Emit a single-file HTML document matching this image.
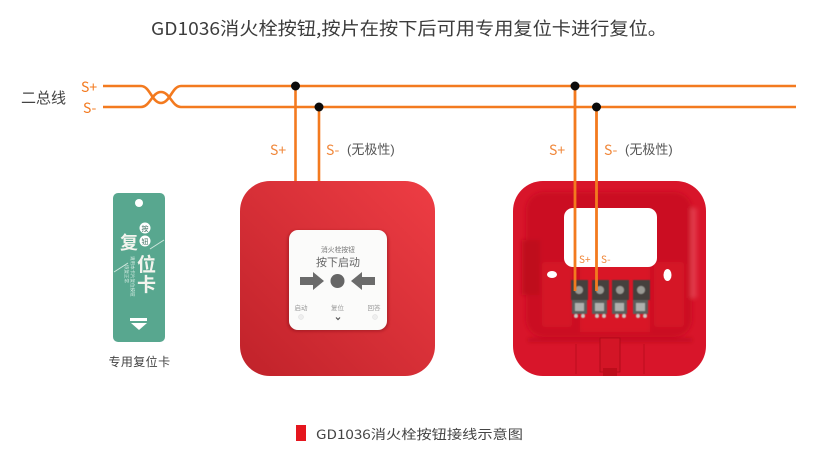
<!DOCTYPE html>
<html><head><meta charset="utf-8"><style>
html,body{margin:0;padding:0;background:#fff}
svg{display:block}
text{font-family:"Noto Sans CJK SC","Liberation Sans",sans-serif}
.l{font-family:"Liberation Sans","Noto Sans CJK SC",sans-serif}
</style></head><body>
<svg width="820" height="464" viewBox="0 0 820 464" xmlns="http://www.w3.org/2000/svg">
<defs>
<linearGradient id="r" x1="1" y1="0" x2="0" y2="1"><stop offset="0" stop-color="#ee3d44"/><stop offset="1" stop-color="#c0222a"/></linearGradient>
<filter id="s" x="-20%" y="-20%" width="140%" height="140%"><feGaussianBlur stdDeviation="1.6"/></filter>
<filter id="t" x="-20%" y="-20%" width="140%" height="140%"><feGaussianBlur stdDeviation=".6"/></filter>
<filter id="u" x="-20%" y="-20%" width="140%" height="140%"><feGaussianBlur stdDeviation="2"/></filter>
</defs>
<rect width="820" height="464" fill="#fff"/>
<text x="151" y="35" font-size="18" fill="#3c3c3c" textLength="516" lengthAdjust="spacingAndGlyphs">GD1036消火栓按钮,按片在按下后可用专用复位卡进行复位。</text>

<!-- bus -->
<g fill="none" stroke="#f37a1f" stroke-width="2.6">
<path d="M103 107H141C150 107 152 92 161 92C170 92 172 107 181 107H796"/>
<path d="M103 86H141C150 86 152 103 161 103C170 103 172 86 181 86H796"/>
<path d="M295.500 86V181M319 107V181"/>
</g>
<circle cx="295.500" cy="86" r="4.500" fill="#0b0b0b"/>
<circle cx="319" cy="107" r="4.500" fill="#0b0b0b"/>
<text x="21" y="103" font-size="15" fill="#444">二总线</text>
<text x="81" y="92" font-size="14" fill="#f37a1f">S+</text>
<text x="83" y="113" font-size="14" fill="#f37a1f">S-</text>

<text x="270" y="155" font-size="14" fill="#f0873a">S+</text>
<text x="326" y="155" font-size="14" fill="#f0873a">S-</text>
<text class="l" x="347" y="154" font-size="13" fill="#555">(无极性)</text>
<text x="549" y="155" font-size="14" fill="#f0873a">S+</text>
<text x="604" y="155" font-size="14" fill="#f0873a">S-</text>
<text class="l" x="625" y="154" font-size="13" fill="#555">(无极性)</text>

<!-- card -->
<rect x="113" y="193" width="52" height="149" rx="5" fill="#58a78f"/>
<circle cx="139" cy="203" r="4" fill="#fff"/>
<path d="M114 272L128 263M150 249L164 240" stroke="#cfe6dd" stroke-width="1" fill="none"/>
<circle cx="145" cy="228" r="5.500" fill="#fff"/><circle cx="145" cy="241" r="5.500" fill="#fff"/>
<text x="145" y="231" font-size="7" fill="#3d6f60" text-anchor="middle">按</text>
<text x="145" y="244" font-size="7" fill="#3d6f60" text-anchor="middle">钮</text>
<text x="120" y="249" font-size="18" font-weight="bold" fill="#f4f4ee">复</text>
<text x="137" y="271" font-size="19" font-weight="bold" fill="#f4f4ee">位</text>
<text x="137" y="291" font-size="19" font-weight="bold" fill="#f4f4ee">卡</text>
<g fill="#d6ebe3" font-size="4.500"><text transform="translate(131,256) rotate(90)">请用本卡片复位按钮</text><text transform="translate(125,265) rotate(90)">恢复正常</text></g>
<rect x="130" y="318" width="17" height="3" fill="#fff"/>
<path d="M131 323H147L139 330Z" fill="#fff"/>
<text x="139.500" y="366" font-size="12" letter-spacing=".4" fill="#444" text-anchor="middle">专用复位卡</text>

<!-- button -->
<rect x="240" y="181" width="195" height="195" rx="30" fill="url(#r)"/>
<rect x="288" y="231" width="100" height="100" rx="9" fill="#7b0f14" opacity=".55" filter="url(#s)"/>
<rect x="289" y="230" width="98" height="100" rx="9" fill="#fbfbfa"/>
<text x="338" y="252" font-size="6.800" fill="#777" text-anchor="middle">消火栓按钮</text>
<text x="338" y="266" font-size="11" fill="#666" text-anchor="middle">按下启动</text>
<circle cx="337.500" cy="281" r="7" fill="#666"/>
<path d="M300 277H313V272L324 281L313 290V285H300Z" fill="#6b6b6b"/>
<path d="M375 277H362V272L351 281L362 290V285H375Z" fill="#6b6b6b"/>
<g font-size="6.500" fill="#999" text-anchor="middle"><text x="301" y="310">启动</text><text x="337.500" y="310">复位</text><text x="374" y="310">回答</text></g>
<circle cx="301" cy="317" r="2.500" fill="#eeeeee" stroke="#ddd" stroke-width=".5"/>
<circle cx="375" cy="317" r="2.500" fill="#eeeeee" stroke="#ddd" stroke-width=".5"/>
<path d="M336 317.500L338 319.500L340 317.500" fill="none" stroke="#555" stroke-width="1.200"/>

<!-- base -->
<rect x="513" y="181" width="193" height="195" rx="30" fill="#d8152a"/>
<g filter="url(#u)">
<rect x="526" y="192" width="166" height="145" rx="18" fill="#cb0f20"/>
<rect x="522" y="240" width="18" height="55" fill="#bf0d1c"/>
<rect x="690" y="208" width="7" height="90" fill="#ee5f6c" opacity=".45"/>
<rect x="542" y="262" width="30" height="65" rx="3" fill="#d51426"/>
<rect x="654" y="262" width="30" height="65" rx="3" fill="#d51426"/>
<rect x="580" y="262" width="70" height="70" fill="#d91628"/>
<rect x="528" y="338" width="164" height="4" fill="#ad0a16" opacity=".5"/>
</g>
<path d="M576 344V374M644 344V374" stroke="#b30b18" stroke-width="1" opacity=".7"/>
<path d="M600 338V372H620V338Z" fill="#d31526" stroke="#a90b16" stroke-width=".8"/>
<path d="M603 368H617V376H603Z" fill="#bd0d1b"/>
<rect x="564" y="208" width="93" height="59" rx="9" fill="#fff"/>
<ellipse cx="552" cy="274.500" rx="5" ry="3.500" fill="#fff"/>
<ellipse cx="667.500" cy="275" rx="4" ry="6" fill="#fff"/>
<g filter="url(#t)">
<rect x="571" y="280" width="17" height="20" fill="#45403e"/><rect x="572" y="300" width="15" height="14" fill="#5c5f5c"/><rect x="575" y="303" width="9" height="8" fill="#aeb0ad"/><circle cx="576" cy="316" r="2" fill="#c9c6c0"/><circle cx="583" cy="316" r="2" fill="#c9c6c0"/><circle cx="579" cy="290" r="4" fill="#9a9a94"/>
<rect x="592" y="280" width="17" height="20" fill="#45403e"/><rect x="592" y="300" width="15" height="14" fill="#5c5f5c"/><rect x="595" y="303" width="9" height="8" fill="#aeb0ad"/><circle cx="597" cy="316" r="2" fill="#c9c6c0"/><circle cx="604" cy="316" r="2" fill="#c9c6c0"/><circle cx="600" cy="290" r="4" fill="#9a9a94"/>
<rect x="612" y="280" width="17" height="20" fill="#45403e"/><rect x="612" y="300" width="15" height="14" fill="#5c5f5c"/><rect x="615" y="303" width="9" height="8" fill="#aeb0ad"/><circle cx="617" cy="316" r="2" fill="#c9c6c0"/><circle cx="624" cy="316" r="2" fill="#c9c6c0"/><circle cx="620" cy="290" r="4" fill="#9a9a94"/>
<rect x="633" y="280" width="17" height="20" fill="#45403e"/><rect x="633" y="300" width="15" height="14" fill="#5c5f5c"/><rect x="636" y="303" width="9" height="8" fill="#aeb0ad"/><circle cx="638" cy="316" r="2" fill="#c9c6c0"/><circle cx="645" cy="316" r="2" fill="#c9c6c0"/><circle cx="641" cy="290" r="4" fill="#9a9a94"/>
</g>
<g fill="none" stroke="#f37a1f" stroke-width="2.800">
<path d="M575 86V291M596.500 107V291"/>
</g>
<circle cx="575" cy="86" r="4.500" fill="#0b0b0b"/>
<circle cx="596.500" cy="107" r="4.500" fill="#0b0b0b"/>
<text x="579" y="263" font-size="10" fill="#f0873a">S+</text>
<text x="601" y="263" font-size="10" fill="#f0873a">S-</text>

<!-- caption -->
<rect x="296" y="425" width="10" height="16" fill="#e5161e"/>
<text x="316" y="439" font-size="13" fill="#444" textLength="207" lengthAdjust="spacingAndGlyphs">GD1036消火栓按钮接线示意图</text>
</svg>
</body></html>
